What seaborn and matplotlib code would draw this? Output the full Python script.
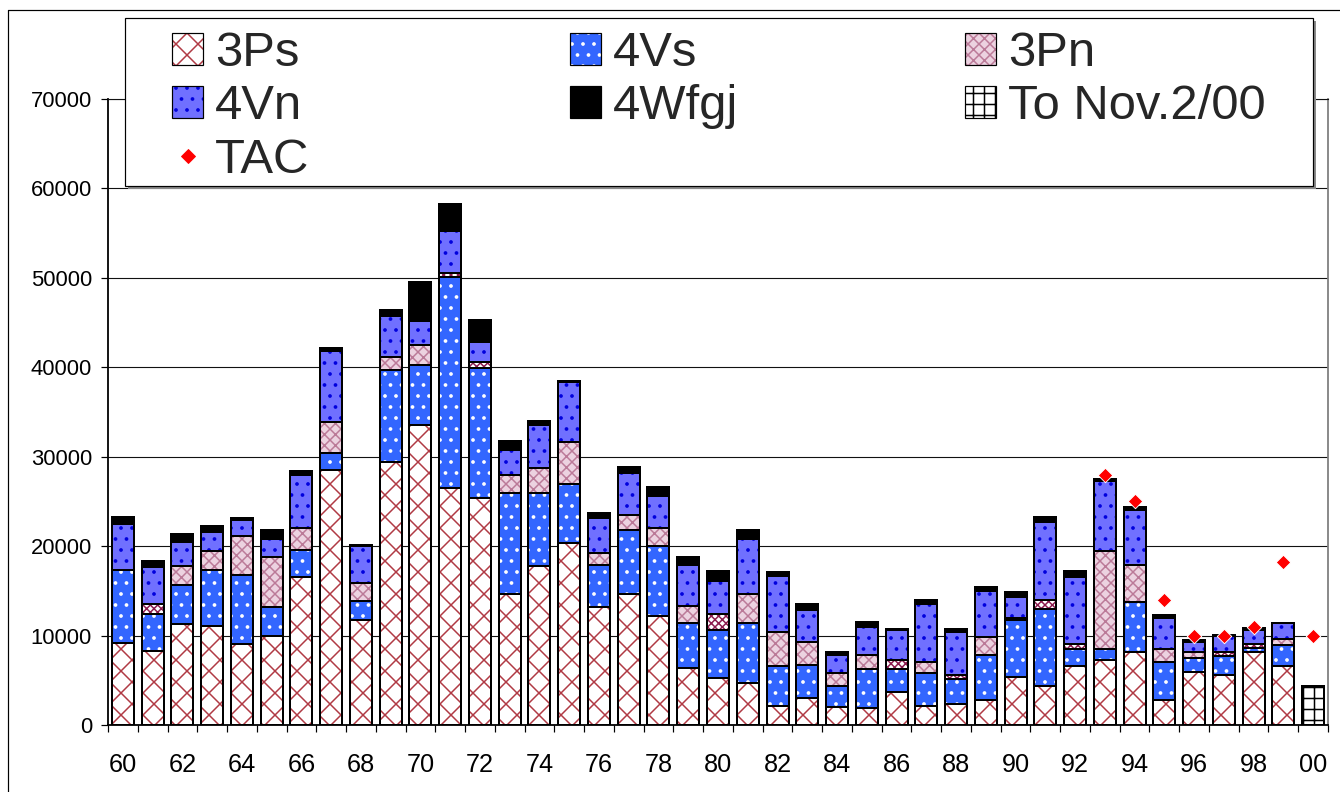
import numpy as np
import pandas as pd
import matplotlib
matplotlib.use("Agg")
import matplotlib.pyplot as plt
import seaborn as sns
from matplotlib.patches import Rectangle, Patch
from matplotlib.lines import Line2D

# ---------------- data ----------------
years = [f"{y % 100:02d}" for y in range(1960, 2001)]

v_3Ps = [9200, 8300, 11300, 11100, 9100, 9900, 16500, 28500, 11700, 29400,
         33600, 26500, 25400, 14700, 17800, 20300, 13200, 14650, 12150, 6400,
         5200, 4700, 2100, 3000, 2000, 1850, 3650, 2150, 2400, 2850,
         5400, 4400, 6650, 7300, 8150, 2750, 5900, 5600, 8150, 6550, 0]
v_4Vs = [8100, 4150, 4400, 6250, 7650, 3350, 3050, 1900, 2200, 10300,
         6700, 23650, 14550, 11200, 8150, 6700, 4700, 7100, 7900, 4950,
         5400, 6700, 4550, 3750, 2400, 4450, 2650, 3650, 2700, 5000,
         6350, 8600, 1800, 1200, 5600, 4250, 1600, 2100, 500, 2400, 0]
v_other = [0, 1100, 0, 0, 0, 0, 0, 0, 0, 0,
           0, 400, 600, 0, 0, 0, 0, 0, 0, 0,
           1850, 0, 0, 0, 0, 0, 950, 0, 450, 0,
           250, 950, 650, 0, 0, 0, 0, 450, 450, 0, 0]
v_3Pn = [0, 0, 2050, 2150, 4400, 5500, 2500, 3500, 2000, 1500,
         2200, 0, 0, 2100, 2750, 4700, 1300, 1700, 2000, 2000,
         0, 3300, 3750, 2550, 1400, 1550, 0, 1300, 0, 2000,
         0, 0, 0, 10950, 4100, 1550, 650, 0, 0, 700, 0]
v_4Vn = [5200, 4100, 2700, 2100, 1750, 2100, 5950, 7950, 4100, 4550,
         2700, 4700, 2300, 2700, 4850, 6600, 4000, 4700, 3600, 4500,
         3700, 6050, 6250, 3600, 2050, 3150, 3350, 6400, 4800, 5150,
         2350, 8750, 7450, 7850, 6150, 3450, 1150, 1800, 1500, 1700, 0]
v_4W = [800, 700, 900, 700, 300, 1000, 450, 350, 100, 600,
        4300, 3000, 2400, 1100, 450, 150, 500, 700, 950, 900,
        1050, 1050, 450, 650, 300, 500, 100, 500, 400, 450,
        500, 600, 650, 250, 350, 300, 200, 100, 200, 0, 0]
v_toNov = [0] * 40 + [4400]

tac_years = ["93", "94", "95", "96", "97", "98", "99", "00"]
tac_vals = [28000, 25000, 14000, 10000, 10000, 11000, 18250, 10000]

ytick_vals = list(range(0, 70001, 10000))

# ---------------- style ----------------
DPI = 66
PX = 72.0 / DPI  # points per pixel
W, H = 1340, 792

sns.set_style("white")
plt.rcParams["font.family"] = ["Liberation Sans", "DejaVu Sans"]
plt.rcParams["hatch.linewidth"] = 1.5 * PX

series = [
    dict(name="3Ps", vals=v_3Ps, face="#ffffff", hatch="x", hc="#b03a44"),
    dict(name="4Vs", vals=v_4Vs, face="#3366ff", hatch=".", hc="#ffffff"),
    dict(name="_other", vals=v_other, face="#ffffff", hatch="xxx", hc="#8c1c4e"),
    dict(name="3Pn", vals=v_3Pn, face="#ecd2e0", hatch="xx", hc="#bb7a98"),
    dict(name="4Vn", vals=v_4Vn, face="#7070ff", hatch=".", hc="#0000dd"),
    dict(name="4Wfgj", vals=v_4W, face="#000000", hatch=None, hc="#000000"),
    dict(name="To Nov.2/00", vals=v_toNov, face="#ffffff", hatch="+", hc="#000000"),
]

fig = plt.figure(figsize=(W / DPI, H / DPI), dpi=DPI)
fig.patch.set_facecolor("white")
ax = fig.add_axes([108 / W, (H - 725) / H, 1220 / W, 626 / H])

cum = np.zeros(len(years))
cums = []
for s in series:
    cum = cum + np.array(s["vals"], dtype=float)
    cums.append(cum.copy())

BAR_W = 0.74
for i in reversed(range(len(series))):
    s = series[i]
    vals = np.array(s["vals"], dtype=float)
    mask = vals > 0
    df = pd.DataFrame({"year": np.array(years)[mask], "h": cums[i][mask]})
    if df.empty:
        continue
    sns.barplot(data=df, x="year", y="h", order=years, color=s["face"],
                saturation=1, width=BAR_W, errorbar=None, hatch=s["hatch"],
                edgecolor=s["hc"], linewidth=0, ax=ax)
    sns.barplot(data=df, x="year", y="h", order=years, color="black",
                fill=False, width=BAR_W, errorbar=None,
                linewidth=2.0 * PX, ax=ax)

tac_pos = [years.index(y) for y in tac_years]
sns.scatterplot(x=tac_pos, y=tac_vals, marker="D", s=(11.2) ** 2, color="#ff0000",
                edgecolor="white", linewidth=0.9 * PX, ax=ax, zorder=6, legend=False)

# ---------------- axes ----------------
ax.set_xlim(-0.5, len(years) - 0.5)
ax.set_ylim(0, 70000)
ax.set_xlabel("")
ax.set_ylabel("")
ax.set_yticks(ytick_vals)
ax.set_yticklabels([str(v) for v in ytick_vals])
ax.set_xticks(range(0, len(years), 2))
ax.set_xticklabels(years[::2])
ax.set_xticks(np.arange(-0.5, len(years), 1.0), minor=True)
ax.tick_params(axis="x", which="major", length=0, labelsize=27.5, pad=28.5 * PX,
               colors="black")
ax.tick_params(axis="x", which="minor", length=7 * PX, width=1.2 * PX,
               direction="out", color="black", bottom=True)
ax.tick_params(axis="y", which="major", length=7 * PX, width=1.2 * PX,
               direction="out", labelsize=24, pad=9 * PX, left=True, colors="black")
ax.yaxis.grid(True, color="#111111", linewidth=1.1 * PX)
ax.xaxis.grid(False)
ax.set_axisbelow(True)
for side in ["left", "bottom"]:
    ax.spines[side].set_color("black")
    ax.spines[side].set_linewidth(1.8 * PX)
ax.spines["right"].set_color("#808080")
ax.spines["right"].set_linewidth(1.8 * PX)
ax.spines["top"].set_color("#111111")
ax.spines["top"].set_linewidth(1.1 * PX)

# chart area border (left and top)
fig.add_artist(Line2D([8 / W, 8 / W], [0, 1 - 10 / H], transform=fig.transFigure,
                      color="black", linewidth=1.2 * PX))
fig.add_artist(Line2D([8 / W, 1], [1 - 10 / H, 1 - 10 / H], transform=fig.transFigure,
                      color="black", linewidth=1.2 * PX))

# ---------------- legend ----------------
lx0, ly0, lx1, ly1 = 125, 18, 1313, 186
fig.add_artist(Rectangle(((lx0 + 3) / W, 1 - (ly1 + 3) / H), (lx1 - lx0) / W, (ly1 - ly0) / H,
                         transform=fig.transFigure, facecolor="#8a8a8a",
                         edgecolor="none", zorder=3))
fig.add_artist(Rectangle((lx0 / W, 1 - ly1 / H), (lx1 - lx0) / W, (ly1 - ly0) / H,
                         transform=fig.transFigure, facecolor="white",
                         edgecolor="black", linewidth=1.2 * PX, zorder=4))


def patch_handle(s):
    if s["hatch"] is None:
        return Patch(facecolor=s["face"], edgecolor="black", linewidth=1.2 * PX)
    if s["hc"] == "#000000":
        return Patch(facecolor=s["face"], edgecolor="black", hatch=s["hatch"],
                     linewidth=1.2 * PX)
    return (Patch(facecolor=s["face"], edgecolor=s["hc"], hatch=s["hatch"], linewidth=0),
            Patch(facecolor="none", edgecolor="black", linewidth=1.2 * PX))


by_name = {s["name"]: s for s in series}
tac_handle = Line2D([], [], marker="D", color="#ff0000", linestyle="none",
                    markersize=10.5 * PX)

columns = [
    (172, [("3Ps", patch_handle(by_name["3Ps"])), ("4Vn", patch_handle(by_name["4Vn"])),
           ("TAC", tac_handle)]),
    (570, [("4Vs", patch_handle(by_name["4Vs"])), ("4Wfgj", patch_handle(by_name["4Wfgj"]))]),
    (965, [("3Pn", patch_handle(by_name["3Pn"])),
           ("To Nov.2/00", patch_handle(by_name["To Nov.2/00"]))]),
]
LEG_FS = 53.5
for x0, items in columns:
    leg = fig.legend([h for _, h in items], [l for l, _ in items],
                     loc="upper left", bbox_to_anchor=(x0 / W, 1 - 31 / H),
                     bbox_transform=fig.transFigure, frameon=False,
                     fontsize=LEG_FS, handlelength=31 / 49, handleheight=31 / 49,
                     handletextpad=0.25, labelspacing=0.17, borderpad=0,
                     borderaxespad=0)
    leg.set_zorder(5)

fig.savefig("out.png", dpi=DPI, facecolor="white")
